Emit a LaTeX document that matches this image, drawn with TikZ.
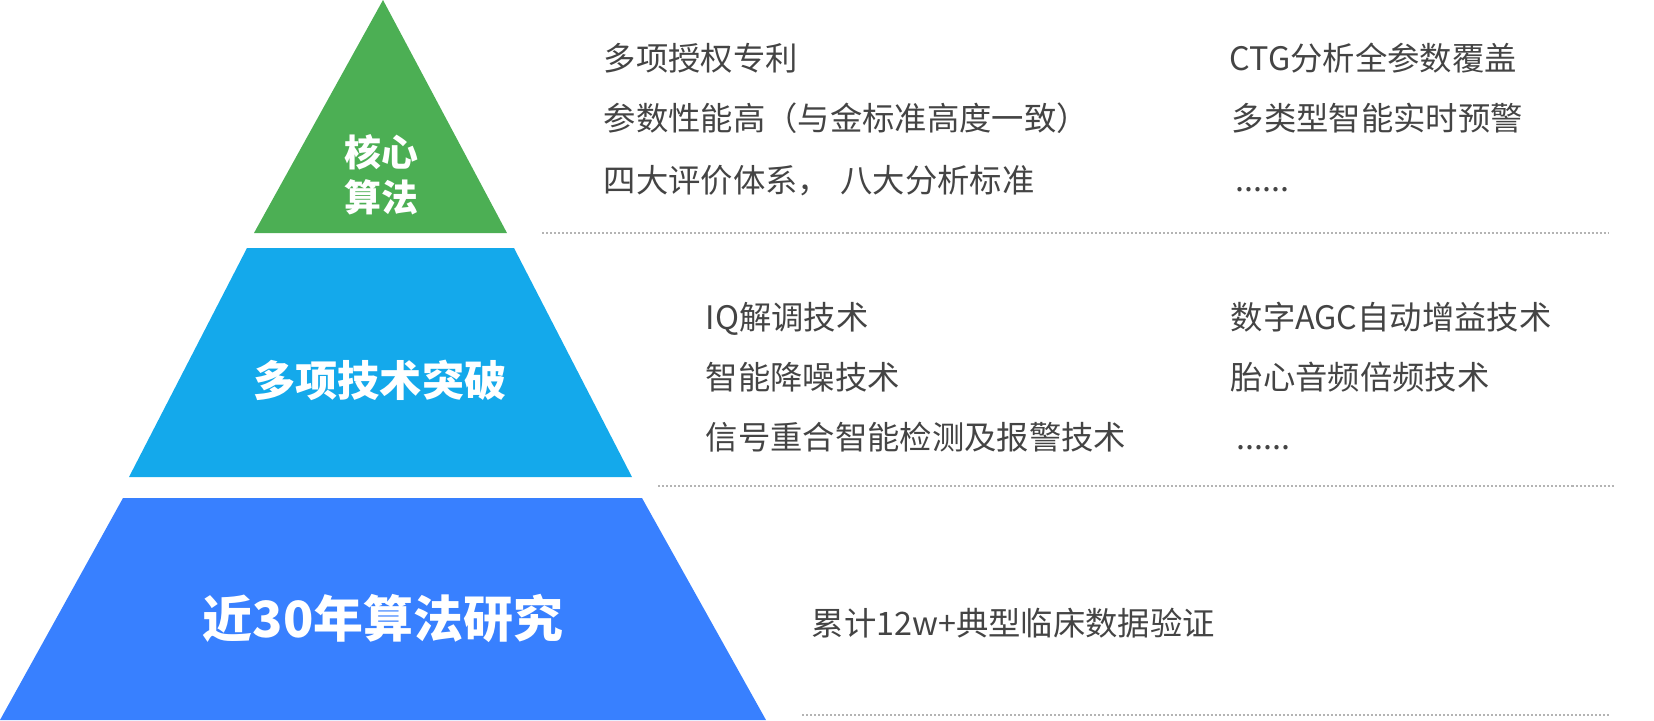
\documentclass[tikz,border=0pt]{standalone}
\usepackage{fontspec}
\setmainfont{Noto Sans CJK SC}
\usepackage{tikz}
\usetikzlibrary{positioning,calc}
\definecolor{tgreen}{RGB}{76,175,84}
\definecolor{tcyan}{RGB}{20,169,235}
\definecolor{tblue}{RGB}{56,128,255}
\definecolor{tgray}{RGB}{68,68,68}
\definecolor{dgray}{RGB}{180,180,180}
\newcommand{\fsz}[1]{\fontsize{#1}{#1}\selectfont}
\tikzset{
  tlab/.style={font=\bfseries, text=white, align=center, inner sep=0pt, anchor=base},
  itm/.style={anchor=base west, font=\fsz{9.2pt}, text=tgray, inner sep=0pt},
  sepl/.style={dgray, line width=0.57pt, dash pattern=on 0.57pt off 0.57pt},
}

\begin{document}
\begin{tikzpicture}[x=0.1mm, y=-0.1mm]
\useasboundingbox (0,0) rectangle (1654,720);
% pyramid tiers
\fill[tgreen] (383,0) -- (507,233) -- (254,233) -- cycle;
\fill[tcyan] (247,248) -- (514,248) -- (632,477) -- (129,477) -- cycle;
\fill[tblue] (123,498) -- (642,498) -- (766,720) -- (0,720) -- cycle;
% tier labels
\node[tlab, font=\bfseries\fsz{10.5pt}] (core1) at (381,166) {核心};
\node[tlab, font=\bfseries\fsz{10.5pt}] (core2) at (381,211) {算法};
\node[tlab, font=\bfseries\fsz{12pt}] (tech) at (380,396) {多项技术突破};
\node[tlab, font=\bfseries\fsz{14.2pt}] (res) at (383,637) {近30年算法研究};
% top group
\node[itm] (a1) at (603,70) {多项授权专利};
\node[itm] (a2) at (603,130) {参数性能高（与金标准高度一致）};
\node[itm] (a3) at (603,192) {四大评价体系，\hspace{3pt}八大分析标准};
\node[itm] (b1) at (1229,70) {CTG分析全参数覆盖};
\node[itm] (b2) at (1231,130) {多类型智能实时预警};
\node[itm] (b3) at (1235,191) {......};
\draw[sepl] (542,233) -- (1608,233);
% middle group
\node[itm] (c1) at (705,329) {IQ解调技术};
\node[itm] (c2) at (705,389) {智能降噪技术};
\node[itm] (c3) at (705,449) {信号重合智能检测及报警技术};
\node[itm] (d1) at (1230,329) {数字AGC自动增益技术};
\node[itm] (d2) at (1230,389) {胎心音频倍频技术};
\node[itm] (d3) at (1236,449) {......};
\draw[sepl] (658,486) -- (1615,486);
% bottom group
\node[itm] (e1) at (811,635) {累计12w+典型临床数据验证};
\draw[sepl] (802,715) -- (1611,715);
\end{tikzpicture}
\end{document}
